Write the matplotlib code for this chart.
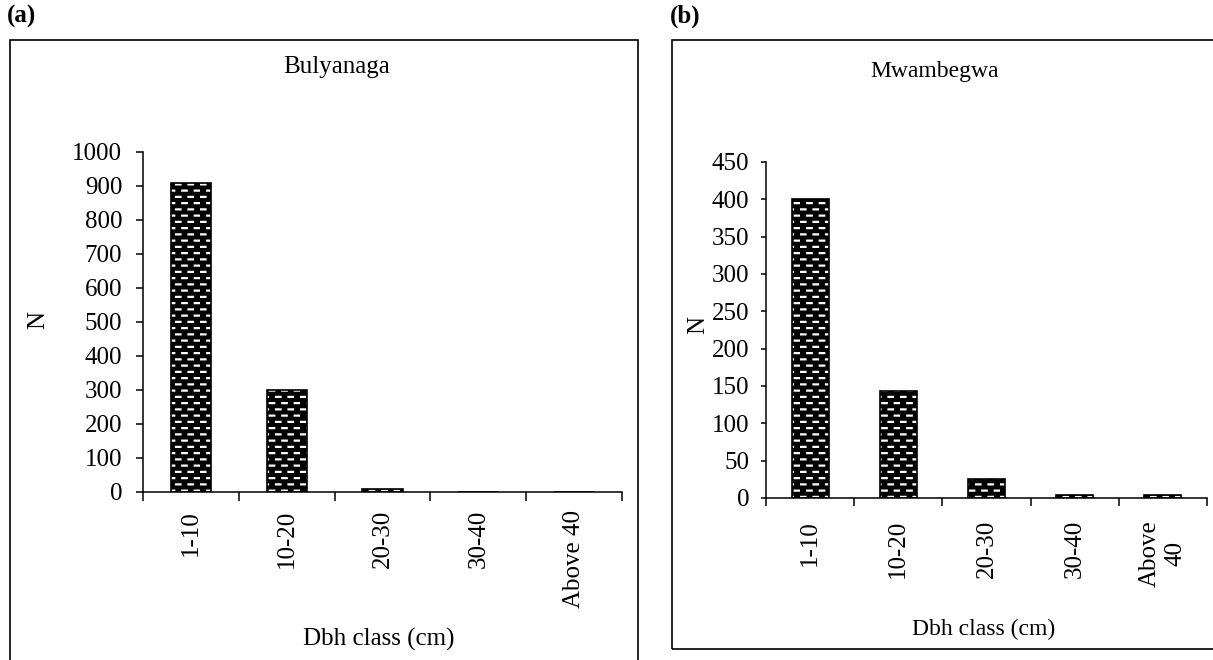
import numpy as np
import matplotlib
matplotlib.use("Agg")
import matplotlib.pyplot as plt
import matplotlib.hatch as mhatch
from matplotlib.path import Path
from matplotlib.patches import Rectangle

# data
classes_a = ["1-10", "10-20", "20-30", "30-40", "Above 40"]
counts_a = [910, 300, 9, 0, 0]
classes_b = ["1-10", "10-20", "20-30", "30-40", "Above\n40"]
counts_b = [400, 143, 25, 4, 4]

plt.rcParams['font.family'] = ['Liberation Serif', 'DejaVu Serif']
plt.rcParams['hatch.linewidth'] = 1.6


# brick style white dashes, like the excel fill pattern
class BrickDash(mhatch.HatchPatternBase):
    def __init__(self, hatch, density):
        self.rows = 16
        self.cols = 8
        self.num_vertices = self.rows * self.cols * 2 if 'b' in hatch else 0

    def set_vertices_and_codes(self, vertices, codes):
        k = 0
        for r in range(self.rows):
            y = (r + 0.5) / self.rows
            off = 0.0 if r % 2 == 0 else 0.5 / self.cols
            for c in range(self.cols):
                x0 = c / self.cols + off + 0.01
                vertices[k] = (x0, y)
                codes[k] = Path.MOVETO
                vertices[k + 1] = (x0 + 0.045, y)
                codes[k + 1] = Path.LINETO
                k += 2


mhatch._hatch_types.append(BrickDash)

W, H = 1213, 660
fig = plt.figure(figsize=(W / 100, H / 100), dpi=100)


def fx(px):
    return px / W


def fy(py):
    return 1 - py / H


def panel(rect, labels, counts, ymax, ystep, fs, ylen, ypad, xlen, xpad):
    ax = fig.add_axes(rect)
    x = np.arange(len(labels))
    ax.bar(x, counts, width=0.42, color='black', edgecolor='white', linewidth=0, hatch='b')
    ax.bar(x, counts, width=0.42, fill=False, edgecolor='black', linewidth=1.2)
    ax.set_xlim(-0.5, len(labels) - 0.5)
    ax.set_ylim(0, ymax)
    ax.set_yticks(np.arange(0, ymax + 1, ystep))
    ax.set_xticks(x)
    ax.set_xticklabels(labels, rotation=90, fontsize=fs, multialignment='center')
    ax.set_xticks(np.arange(-0.5, len(labels), 1), minor=True)
    ax.tick_params(axis='x', which='major', length=0, pad=xpad)
    ax.tick_params(axis='x', which='minor', length=xlen, width=1.1, direction='out')
    ax.tick_params(axis='y', length=ylen, width=1.1, pad=ypad, labelsize=fs)
    for s in ['top', 'right']:
        ax.spines[s].set_visible(False)
    for s in ['left', 'bottom']:
        ax.spines[s].set_linewidth(1.1)
    return ax


ax1 = panel([fx(143), fy(492), fx(622 - 143), (492 - 152) / H],
            classes_a, counts_a, 1000, 100, 18, 5, 10, 6.5, 13)
ax2 = panel([fx(766), fy(498), fx(1207 - 766), (498 - 162) / H],
            classes_b, counts_b, 450, 50, 18, 3.6, 8.6, 6, 16)

# outer frames of the two panels
fig.patches.append(Rectangle((fx(10), fy(668)), fx(638 - 10), (668 - 40) / H,
                             transform=fig.transFigure, fill=False, edgecolor='black', linewidth=1.2))
fig.patches.append(Rectangle((fx(672), fy(649)), fx(1220 - 672), (649 - 40) / H,
                             transform=fig.transFigure, fill=False, edgecolor='black', linewidth=1.2))

fig.text(fx(7), fy(16), "(a)", fontsize=18, fontweight='bold', ha='left', va='center')
fig.text(fx(670), fy(16), "(b)", fontsize=18, fontweight='bold', ha='left', va='center')

fig.text(fx(337), fy(67), "Bulyanaga", fontsize=18, ha='center', va='center')
fig.text(fx(935), fy(72), "Mwambegwa", fontsize=17, ha='center', va='center')

fig.text(fx(38), fy(320), "N", fontsize=18, rotation=90, ha='center', va='center')
fig.text(fx(698), fy(325), "N", fontsize=18, rotation=90, ha='center', va='center')

fig.text(fx(379), fy(639), "Dbh class (cm)", fontsize=18, ha='center', va='center')
fig.text(fx(984), fy(629), "Dbh class (cm)", fontsize=17, ha='center', va='center')

fig.savefig("out.png", dpi=100)
